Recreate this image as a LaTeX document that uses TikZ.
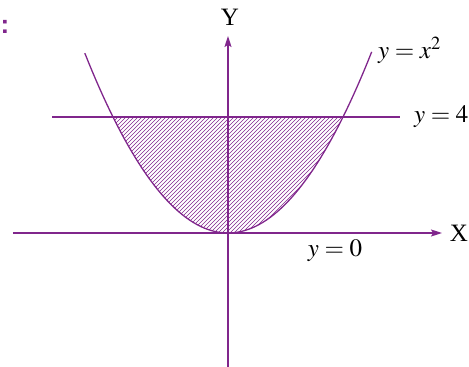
\documentclass[tikz,border=0pt]{standalone}
\usepackage{mathptmx}
\usepackage{fontspec}
\setmainfont{Liberation Serif}
\newfontfamily\headfont{Liberation Sans}
\usetikzlibrary{arrows.meta}
\definecolor{plum}{RGB}{128,38,140}

\begin{document}
\begin{tikzpicture}[
  x=57.5pt,
  y=29pt,
  curve/.style={color=plum, line width=1.3pt},
  axis/.style={color=plum, line width=1.3pt, -{Stealth[length=11pt, width=7pt, inset=2pt]}},
  hatch/.style={color=plum, line width=0.6pt},
  label/.style={font=\fontsize{25}{25}\selectfont, inner sep=1pt}
]
\useasboundingbox (-228pt,-134pt) rectangle (241pt,233pt);

% axes
\coordinate (xstart) at (-215pt,0);
\coordinate (xend) at (214pt,0);
\coordinate (ystart) at (0,-134pt);
\coordinate (yend) at (0,197pt);
\draw[axis] (xstart) -- (xend);
\draw[axis] (ystart) -- (yend);
\node[label] (xlab) at (231pt,0) {X};
\node[label] (ylab) at (2pt,216pt) {Y};

% shaded region between y=x^2 and y=4
\begin{scope}
  \clip (-2,4) plot[domain=-2:2, samples=60] (\x,{\x*\x}) -- cycle;
  \foreach \c in {-240,-236,...,124}
    \draw[hatch] (\c pt,-2pt) -- ++(124pt,124pt);
\end{scope}

% line y=4
\coordinate (lstart) at (-3.06,4);
\coordinate (lend) at (2.99,4);
\draw[curve] (lstart) -- (lend);

% parabola
\draw[curve] plot[domain=-2.49:2.5, samples=80] (\x,{\x*\x});

\node[label, anchor=west] (parlab) at (149pt,183pt) {$y = x^2$};
\node[label, anchor=west] (linelab) at (185pt,116pt) {$y = 4$};
\node[label] (baselab) at (107pt,-18pt) {$y = 0$};

\node[text=plum, font=\headfont\bfseries\fontsize{26}{26}\selectfont] (colon) at (-223pt,206pt) {:};
\end{tikzpicture}
\end{document}
